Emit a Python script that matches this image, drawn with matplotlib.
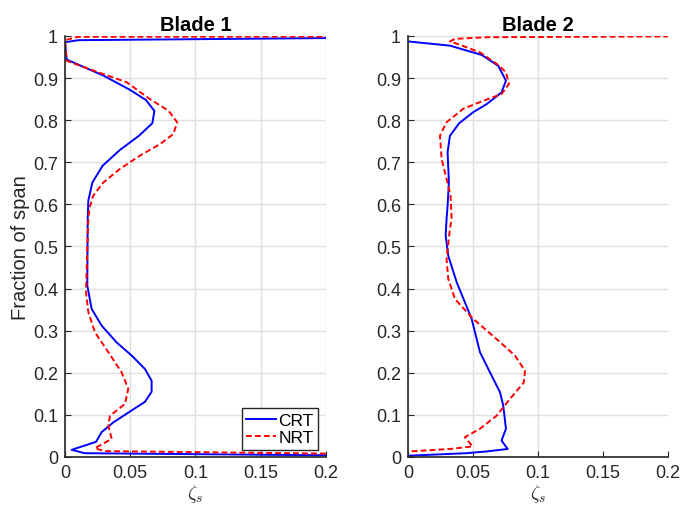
import numpy as np
import matplotlib.pyplot as plt

plt.rcParams['font.family'] = ['Liberation Sans', 'DejaVu Sans']
plt.rcParams['mathtext.fontset'] = 'cm'

# Blade 1 profiles (zeta_s, fraction of span)
b1_crt_x = [0.3, 0.2, 0.01, 0.0, 0.0013, 0.0294, 0.0498, 0.062, 0.0685, 0.067, 0.0567, 0.042,
            0.0289, 0.021, 0.0179, 0.0174, 0.0171, 0.0204, 0.0281, 0.0396, 0.0511,
            0.0613, 0.0664, 0.0664, 0.0613, 0.0498, 0.037, 0.0281, 0.0238, 0.0051,
            0.015, 0.2, 0.3]
b1_crt_y = [0.996, 0.995, 0.99, 0.985, 0.944, 0.906, 0.872, 0.848, 0.822, 0.793, 0.763, 0.729,
            0.692, 0.652, 0.609, 0.565, 0.407, 0.352, 0.312, 0.272, 0.241,
            0.209, 0.181, 0.155, 0.131, 0.108, 0.082, 0.059, 0.036, 0.017,
            0.009, 0.004, 0.003]

b1_nrt_x = [0.3, 0.01, 0.0, 0.0013, 0.0217, 0.0473, 0.0651, 0.0792, 0.086, 0.083, 0.0728,
            0.0575, 0.042, 0.0294, 0.0217, 0.0186, 0.0179, 0.0174, 0.0161, 0.0179,
            0.023, 0.0332, 0.0434, 0.0485, 0.046, 0.0345, 0.0332, 0.0358, 0.023,
            0.03, 0.2, 0.3]
b1_nrt_y = [0.999, 0.998, 0.99, 0.941, 0.918, 0.890, 0.850, 0.823, 0.795, 0.767, 0.743,
            0.716, 0.684, 0.652, 0.621, 0.589, 0.565, 0.526, 0.391, 0.344,
            0.296, 0.249, 0.201, 0.162, 0.126, 0.098, 0.074, 0.043, 0.021,
            0.014, 0.008, 0.007]

# Blade 2 profiles
b2_crt_x = [0.0002, 0.0323, 0.0567, 0.0695, 0.0754, 0.072, 0.0605, 0.0502, 0.0395, 0.0323,
            0.0305, 0.0315, 0.0305, 0.0297, 0.029, 0.031, 0.0375, 0.049, 0.0554,
            0.0631, 0.0708, 0.0733, 0.0754, 0.072, 0.0767, 0.06, 0.0451, 0.0002]
b2_crt_y = [0.987, 0.977, 0.955, 0.929, 0.894, 0.866, 0.838, 0.819, 0.793, 0.763,
            0.724, 0.652, 0.597, 0.565, 0.526, 0.478, 0.415, 0.328, 0.249,
            0.201, 0.154, 0.122, 0.067, 0.039, 0.019, 0.013, 0.009, 0.003]

b2_nrt_x = [0.3, 0.2, 0.06, 0.036, 0.0323, 0.04, 0.0554, 0.0682, 0.0754, 0.0777, 0.072,
            0.0579, 0.0425, 0.0297, 0.0246, 0.0259, 0.0297, 0.0328, 0.0336, 0.0323,
            0.0297, 0.031, 0.0362, 0.0502, 0.0682, 0.0823, 0.09, 0.0892, 0.0785,
            0.0682, 0.0554, 0.0438, 0.0497, 0.0323, 0.0002]
b2_nrt_y = [1.0, 0.999, 0.997, 0.993, 0.987, 0.979, 0.961, 0.934, 0.914, 0.886, 0.862,
            0.846, 0.827, 0.795, 0.763, 0.708, 0.660, 0.621, 0.565, 0.542,
            0.470, 0.423, 0.375, 0.328, 0.280, 0.241, 0.205, 0.177, 0.138,
            0.098, 0.067, 0.047, 0.025, 0.019, 0.013]

xticks = [0, 0.05, 0.1, 0.15, 0.2]
xticklabels = ['0', '0.05', '0.1', '0.15', '0.2']
yticks = np.round(np.arange(0, 1.01, 0.1), 1)
yticklabels = ['0'] + ['%.1f' % v for v in yticks[1:-1]] + ['1']

fig = plt.figure(figsize=(6.95, 5.10), dpi=100)
ax1 = fig.add_axes([0.0935, 0.102, 0.3755, 0.8255])
ax2 = fig.add_axes([0.587, 0.102, 0.374, 0.8255])

dash = (0, (3, 1.6))
axcol = '#262626'

for ax, title, cx, cy, nx, ny in [
        (ax1, 'Blade 1', b1_crt_x, b1_crt_y, b1_nrt_x, b1_nrt_y),
        (ax2, 'Blade 2', b2_crt_x, b2_crt_y, b2_nrt_x, b2_nrt_y)]:
    ax.plot(cx, cy, color='#0000ff', lw=1.4, label='CRT')
    ax.plot(nx, ny, color='#ff0000', lw=1.4, ls=dash, label='NRT')
    ax.set_xlim(0, 0.2)
    ax.set_ylim(0, 1)
    ax.set_xticks(xticks)
    ax.set_xticklabels(xticklabels)
    ax.set_yticks(yticks)
    ax.set_yticklabels(yticklabels)
    ax.grid(True, color='#e0e0e0', lw=1.0)
    ax.set_axisbelow(True)
    for s in ['top', 'right']:
        ax.spines[s].set_visible(False)
    for s in ['left', 'bottom']:
        ax.spines[s].set_color(axcol)
        ax.spines[s].set_linewidth(1.2)
    ax.tick_params(direction='in', length=4, colors=axcol, labelsize=13,
                   labelcolor=axcol, pad=5)
    ax.set_title(title, fontsize=14.5, fontweight='bold', pad=4)
    ax.set_xlabel(r'$\zeta_s$', fontsize=14, color=axcol, labelpad=1)

ax1.set_ylabel('Fraction of span', fontsize=14.5, color=axcol, labelpad=2)

# right panel shows no gridlines at 0.15 and 0.2
for gl in ax2.xaxis.get_gridlines()[3:]:
    gl.set_visible(False)

leg = ax1.legend(loc='lower right', fontsize=12.5, frameon=True, fancybox=False,
                 edgecolor=axcol, framealpha=1, handlelength=1.7, handletextpad=0.15,
                 borderpad=0.25, labelspacing=0.15, borderaxespad=0,
                 bbox_to_anchor=(0.97, 0.017))
leg.get_frame().set_linewidth(1.0)

fig.savefig('out.png', dpi=100)
